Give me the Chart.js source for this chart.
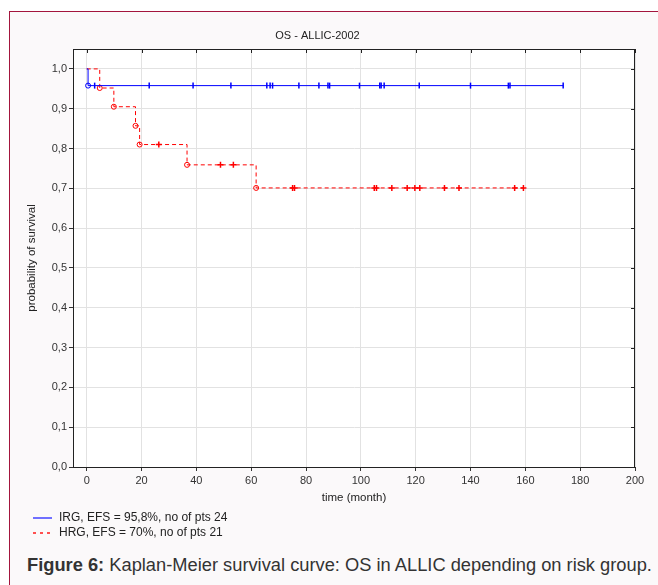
<!DOCTYPE html>
<html>
<head>
<meta charset="utf-8">
<script src="https://cdn.jsdelivr.net/npm/chart.js@4"></script>
<style>
  body { margin: 0; background: #fff; font-family: "Liberation Sans", Arial, sans-serif; }
  #frame { position: absolute; left: 9px; top: 11px; width: 700px; height: 600px;
           border-left: 1px solid #a3153d; border-top: 1px solid #a3153d; background: #fbf9fa; }
  #box { position: absolute; left: 0; top: 0; width: 658px; height: 515px; }
  .leg { position: absolute; left: 33px; font-size: 12px; line-height: 15px; color: #222; white-space: nowrap; }
  .leg span { display: inline-block; width: 19px; height: 1.5px; vertical-align: middle; margin-right: 7px; }
  #caption { position: absolute; left: 27px; top: 554px; font-size: 18.3px; line-height: 22px; color: #333; white-space: nowrap; }
</style>
</head>
<body>
<div id="frame"></div>
<div id="box"><canvas id="km"></canvas></div>
<div class="leg" style="top:510px"><span style="background:#7070ff"></span>IRG, EFS = 95,8%, no of pts 24</div>
<div class="leg" style="top:525px"><span style="background:repeating-linear-gradient(90deg,#ff5050 0 3px,transparent 3px 7px)"></span>HRG, EFS = 70%, no of pts 21</div>
<div id="caption"><b>Figure 6:</b> Kaplan-Meier survival curve: OS in ALLIC depending on risk group.</div>
<script>
// tiempos en meses, sobrevida
const irgEventTimes = [0, 0.5];
const irgEventSurv = [1.0, 0.958];
const irgCensorTimes = [2.9, 22.8, 38.8, 52.6, 65.7, 66.9, 67.8, 77.4, 84.7, 88.0, 88.6, 99.5,
  106.9, 107.4, 108.5, 121.3, 140.0, 153.8, 154.4, 173.8];

const hrgEventTimes = [0, 4.75, 9.9, 17.8, 19.3, 36.6, 61.8];
const hrgEventSurv = [1.0, 0.952, 0.905, 0.857, 0.810, 0.759, 0.701];
const hrgCensorTimes = [26.3, 48.8, 53.5, 75.1, 75.8, 104.9, 105.7, 111.3, 116.9, 119.7, 121.5,
  130.5, 135.8, 156.1, 159.3];

const xTicks = [0, 20, 40, 60, 80, 100, 120, 140, 160, 180, 200];
const yTicks = [0, 0.1, 0.2, 0.3, 0.4, 0.5, 0.6, 0.7, 0.8, 0.9, 1.0];

// junta eventos y censuras en una sola curva escalonada
const armarCurva = (tiempos, surv, censuras) => {
  let puntos = tiempos.map((t, i) => ({ x: t, y: surv[i], tipo: i === 0 ? 'inicio' : 'evento' }));
  censuras.forEach(t => {
    let s = surv[0];
    tiempos.forEach((te, i) => { if (te <= t) s = surv[i]; });
    puntos.push({ x: t, y: s, tipo: 'censura' });
  });
  return puntos.sort((a, b) => a.x - b.x);
};

const irgData = armarCurva(irgEventTimes, irgEventSurv, irgCensorTimes);
const hrgData = armarCurva(hrgEventTimes, hrgEventSurv, hrgCensorTimes);

const estiloPunto = (marcaCensura) => (c) => {
  const p = c.raw;
  if (!p || p.tipo === 'inicio') return false;
  return p.tipo === 'evento' ? 'circle' : marcaCensura;
};

// fondo blanco, borde y marcas interiores del area del grafico
const marco = {
  id: 'marco',
  beforeDraw(chart) {
    const a = chart.chartArea, ctx = chart.ctx;
    ctx.save();
    ctx.fillStyle = '#fff';
    ctx.fillRect(a.left, a.top, a.right - a.left, a.bottom - a.top);
    ctx.restore();
  },
  afterDraw(chart) {
    const a = chart.chartArea, ctx = chart.ctx;
    ctx.save();
    ctx.strokeStyle = '#222';
    ctx.lineWidth = 1;
    ctx.strokeRect(a.left + 0.5, a.top + 0.5, a.right - a.left - 1, a.bottom - a.top);
    ctx.beginPath();
    xTicks.forEach(v => {
      const px = Math.round(chart.scales.x.getPixelForValue(v)) + 0.5;
      ctx.moveTo(px, a.top); ctx.lineTo(px, a.top + 4);
    });
    yTicks.forEach(v => {
      const py = Math.round(chart.scales.y.getPixelForValue(v)) + 0.5;
      ctx.moveTo(a.right, py); ctx.lineTo(a.right - 4, py);
    });
    ctx.stroke();
    ctx.restore();
  }
};

const fuente = { family: '"Liberation Sans", Arial, sans-serif', size: 11 };

new Chart(document.getElementById('km'), {
  type: 'line',
  data: {
    datasets: [
      {
        label: 'IRG, EFS = 95,8%, no of pts 24',
        data: irgData,
        stepped: 'before',
        borderColor: '#0000ff',
        borderWidth: 1,
        pointStyle: estiloPunto('line'),
        pointRotation: 90,
        pointRadius: c => (c.raw && c.raw.tipo === 'evento') ? 2.5 : 3,
        pointBorderWidth: c => (c.raw && c.raw.tipo === 'evento') ? 1 : 1.5,
        pointBorderColor: '#0000ff',
        pointBackgroundColor: 'rgba(0,0,0,0)'
      },
      {
        label: 'HRG, EFS = 70%, no of pts 21',
        data: hrgData,
        stepped: 'before',
        borderColor: '#ff0000',
        borderWidth: 1,
        borderDash: [4, 3],
        pointStyle: estiloPunto('cross'),
        pointRadius: c => (c.raw && c.raw.tipo === 'evento') ? 2.5 : 3,
        pointBorderWidth: c => (c.raw && c.raw.tipo === 'evento') ? 1 : 1.5,
        pointBorderColor: '#ff0000',
        pointBackgroundColor: 'rgba(0,0,0,0)'
      }
    ]
  },
  options: {
    responsive: true,
    maintainAspectRatio: false,
    animation: false,
    events: [],
    layout: { padding: { left: 0, right: 23, top: 0, bottom: 0 } },
    plugins: {
      legend: { display: false },
      tooltip: { enabled: false },
      title: {
        display: true,
        text: 'OS - ALLIC-2002',
        color: '#222',
        font: { family: fuente.family, size: 11, weight: 'normal' },
        padding: { top: 29.4, bottom: 6.4 }
      }
    },
    scales: {
      x: {
        type: 'linear',
        min: -5,
        max: 200,
        afterFit: s => { s.height = 48; },
        afterBuildTicks: s => { s.ticks = xTicks.map(v => ({ value: v })); },
        ticks: { color: '#333', font: fuente, padding: 3, maxRotation: 0 },
        grid: { color: '#e2e2e2', tickColor: '#333', tickLength: 4 },
        border: { color: '#222' },
        title: { display: true, text: 'time (month)', color: '#222',
                 font: { family: fuente.family, size: 11.5 }, padding: { top: 0, bottom: 10.4 } }
      },
      y: {
        min: 0,
        max: 1.05,
        afterFit: s => { s.width = 73; },
        afterBuildTicks: s => { s.ticks = yTicks.map(v => ({ value: v })); },
        ticks: { color: '#333', font: fuente, padding: 2, callback: v => v.toFixed(1).replace('.', ',') },
        grid: { color: '#e2e2e2', tickColor: '#333', tickLength: 4 },
        border: { color: '#222' },
        title: { display: true, text: 'probability of survival', color: '#222',
                 font: { family: fuente.family, size: 11.5 }, padding: { top: 25, bottom: 0 } }
      }
    }
  },
  plugins: [marco]
});
</script>
</body>
</html>
